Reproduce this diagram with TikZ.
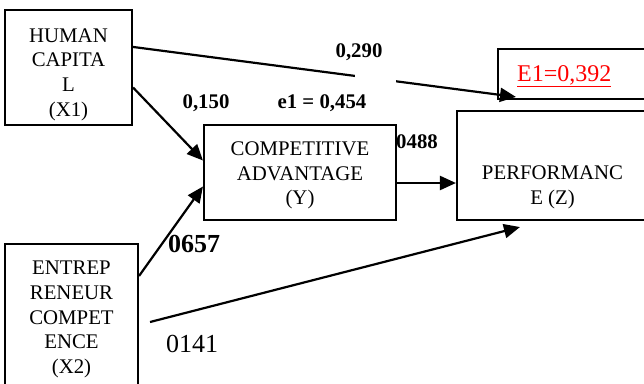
\documentclass[tikz,border=0pt]{standalone}
\usepackage{fontspec}
\setmainfont{Liberation Serif}
\usetikzlibrary{arrows.meta}
\tikzset{
  box/.style={draw, line width=2.1pt, inner sep=0pt},
  boxtext/.style={inner sep=0pt, align=center, font=\fontsize{20.8}{24.6}\selectfont},
  arr/.style={line width=2.2pt, -{Triangle[length=16pt,width=14pt]}},
  coef/.style={anchor=base, inner sep=0pt, font=\fontsize{20.8}{24}\selectfont\bfseries},
  big/.style={anchor=base, inner sep=0pt, font=\fontsize{26}{30}\selectfont}
}
\begin{document}
\begin{tikzpicture}[x=1pt,y=-1pt]
\clip (0,0) rectangle (644,383);
\fill[white] (0,0) rectangle (644,383);
% boxes
\node[box, minimum width=127pt, minimum height=115pt] (x1) at (68.5,67.5) {};
\node[boxtext] (x1t) at ([yshift=-7pt]x1.center) {HUMAN\\CAPITA\\L\\(X1)};
\node[box, minimum width=192pt, minimum height=95pt] (y) at (300,172.5) {};
\node[boxtext] (yt) at ([yshift=-3pt]y.center) {COMPETITIVE\\ADVANTAGE\\(Y)};
\node[box, minimum width=191pt, minimum height=109pt] (z) at (552.5,165.5) {};
\node[boxtext] (zt) at ([yshift=-22pt]z.center) {PERFORMANC\\E (Z)};
\node[box, minimum width=133pt, minimum height=148pt] (x2) at (71.5,318) {};
\node[boxtext] (x2t) at ([yshift=-1.5pt]x2.center) {ENTREP\\RENEUR\\COMPET\\ENCE\\(X2)};
\node[box, minimum width=163pt, minimum height=50pt, anchor=north west] (e1) at (497,48) {};
\node[anchor=base west, inner sep=0pt, text=red, font=\fontsize{24}{28}\selectfont] (e1t) at (517,81) {\underline{E1=0,392}};
% connectors
\draw[arr] ([yshift=-38pt]x1.north east) -- ([xshift=60pt,yshift=13pt]z.north west);
\fill[white] (355,70) rectangle (396,91);
\draw[arr] ([yshift=-20pt]x1.east) -- ([yshift=12pt]y.west);
\draw[arr] ([yshift=-33pt]x2.north east) -- ([yshift=-14pt]y.west);
\draw[arr] ([yshift=-10.5pt]y.east) -- ([yshift=-17.5pt]z.west);
\draw[arr] ([xshift=11pt,yshift=-4pt]x2.east) -- ([xshift=64pt,yshift=-6pt]z.south west);
% coefficients
\node[coef] (c290) at (359,57) {0,290};
\node[coef] (c150) at (206,108) {0,150};
\node[coef] (ce1) at (322,108) {e1 = 0,454};
\node[coef] (c488) at (417,148) {0488};
\node[big, font=\fontsize{26}{30}\selectfont\bfseries] (c657) at (194,252) {0657};
\node[big] (c141) at (192,352) {0141};
\end{tikzpicture}
\end{document}
